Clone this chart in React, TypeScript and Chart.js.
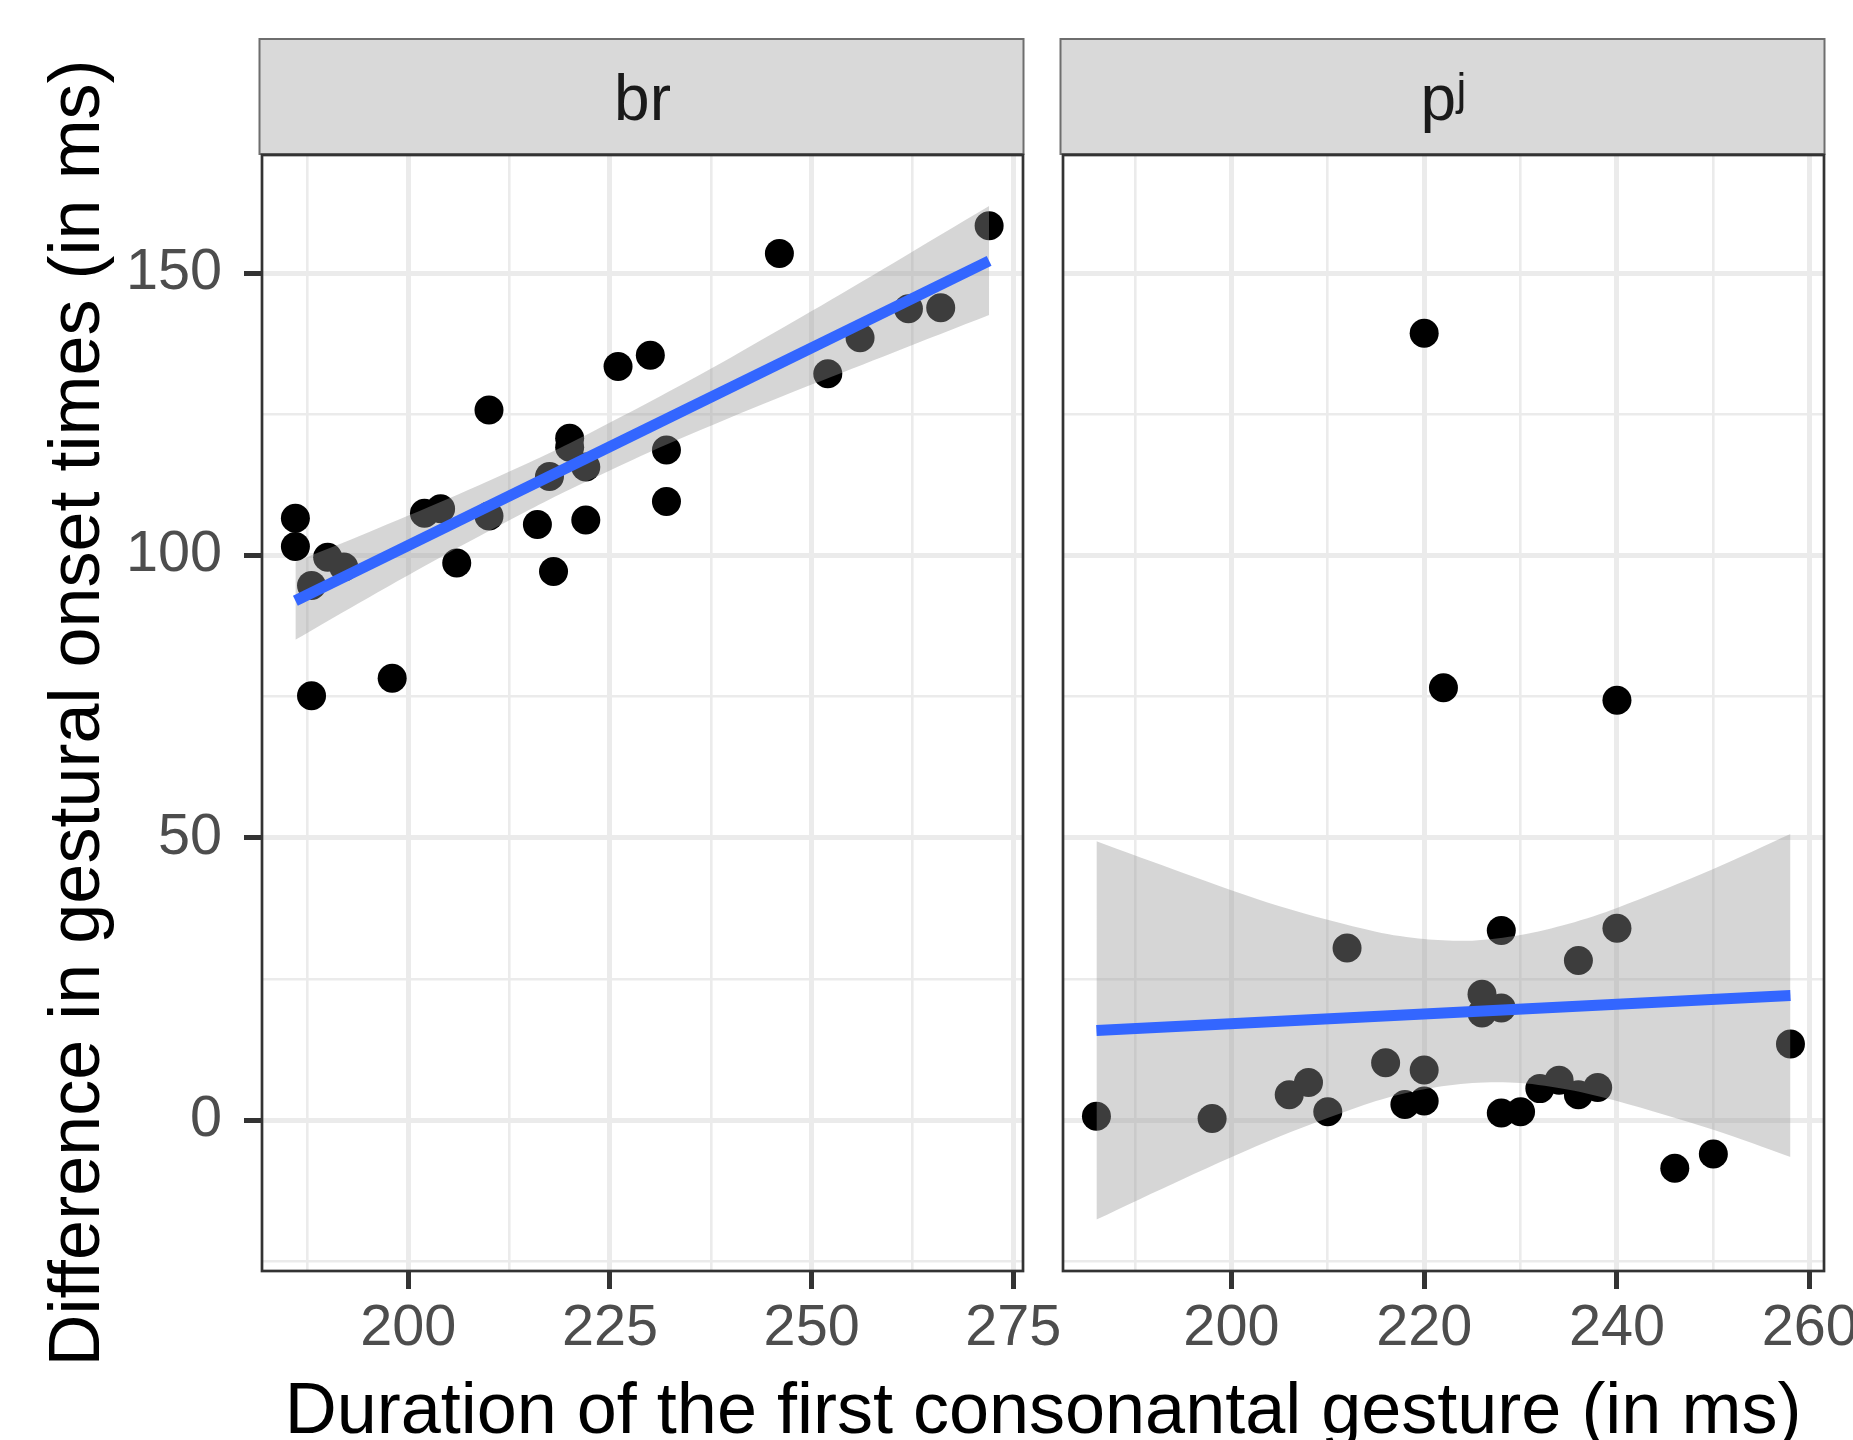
import React, { useEffect, useRef } from "react";
import { Chart, registerables } from "chart.js";

Chart.register(...registerables);

const FONT = '"Liberation Sans", Arial, Helvetica, sans-serif';

// ---- text ----
const panelLabels = ["br", "pʲ"];
const xAxisTitle = "Duration of the first consonantal gesture (in ms)";
const yAxisTitle = "Difference in gestural onset times (in ms)";

// ---- shared y axis ----
const yMajorTicks = [0, 50, 100, 150];
const yMinorTicks = [-25, 25, 75, 125];
const yRange = [-26.7, 170.95];

// ---- panel "br" ----
const brMajorTicks = [200, 225, 250, 275];
const brMinorTicks = [187.5, 212.5, 237.5, 262.5];
const brRange = [181.86, 276.2];
const brDuration = [186, 186, 188, 190, 192, 188, 198, 202, 204, 206, 210, 210, 216, 217.5, 218, 220, 220, 222, 222, 226, 230, 232, 232, 246, 252, 256, 262, 266, 272];
const brOnsetDiff = [106.6, 101.6, 94.7, 99.7, 98.0, 75.2, 78.3, 107.5, 108.3, 98.7, 125.8, 107.0, 105.5, 114.0, 97.2, 120.8, 119.2, 115.7, 106.3, 133.5, 135.5, 118.7, 109.6, 153.5, 132.2, 138.6, 143.7, 143.9, 158.4];
const brFitX = [186, 272];
const brFitY = [92.0, 152.2];
const brBandX = [186, 195, 205, 215, 220, 230, 240, 250, 260, 272];
const brBandUpper = [98.9, 104.1, 110.1, 116.5, 119.9, 127.3, 135.1, 143.3, 151.7, 161.9];
const brBandLower = [85.1, 92.5, 100.5, 108.1, 111.7, 118.4, 124.5, 130.3, 135.9, 142.6];

// ---- panel "pʲ" ----
const pjMajorTicks = [200, 220, 240, 260];
const pjMinorTicks = [190, 210, 230, 250];
const pjRange = [182.53, 261.48];
const pjDuration = [186, 198, 206, 208, 210, 212, 216, 218, 220, 220, 220, 222, 226, 226, 228, 228, 228, 230, 232, 234, 236, 236, 238, 240, 240, 246, 250, 258];
const pjOnsetDiff = [0.7, 0.3, 4.5, 6.7, 1.5, 30.5, 10.2, 2.8, 3.4, 8.9, 139.4, 76.6, 22.3, 19.0, 33.6, 19.9, 1.3, 1.5, 5.6, 7.1, 4.5, 28.3, 5.8, 34.0, 74.4, -8.5, -6.0, 13.5];
const pjFitX = [186, 258];
const pjFitY = [15.9, 22.1];
const pjBandX = [186, 195, 205, 215, 220, 225, 230, 235, 240, 250, 258];
const pjBandUpper = [49.4, 43.8, 37.9, 33.4, 32.1, 31.8, 32.8, 34.8, 37.6, 44.5, 50.7];
const pjBandLower = [-17.6, -10.4, -2.9, 3.4, 5.5, 6.6, 6.6, 5.4, 3.4, -1.7, -6.5];

const zip = (xs: number[], ys: number[]) => xs.map((x, i) => ({ x, y: ys[i] }));

function tickBuilder(major: number[], minor: number[]) {
  return (scale: any) => {
    scale.ticks = [...major, ...minor].sort((a, b) => a - b).map((v) => ({ value: v }));
  };
}

interface PanelSpec {
  label: string;
  xs: number[];
  ys: number[];
  fitX: number[];
  fitY: number[];
  bandX: number[];
  bandUp: number[];
  bandLo: number[];
  xMajor: number[];
  xMinor: number[];
  xRange: number[];
  showY: boolean;
  padding: { left: number; right: number; top: number; bottom: number };
  titles: boolean;
}

function makeConfig(p: PanelSpec): any {
  const facetPlugin = {
    id: "facet",
    beforeDraw(chart: any) {
      const { ctx, chartArea } = chart;
      const { left, right } = chartArea;
      ctx.save();
      ctx.fillStyle = "#D9D9D9";
      ctx.fillRect(left - 2.5, 39, right - left + 3, 115);
      ctx.strokeStyle = "#6E6E6E";
      ctx.lineWidth = 2;
      ctx.strokeRect(left - 2.5, 39, right - left + 3, 115);
      ctx.fillStyle = "#1A1A1A";
      ctx.font = `64px ${FONT}`;
      ctx.textAlign = "center";
      ctx.textBaseline = "alphabetic";
      ctx.fillText(p.label, (left + right) / 2, 120);
      ctx.restore();
    },
    afterDatasetsDraw(chart: any) {
      const { ctx, chartArea } = chart;
      const { left, right, top, bottom } = chartArea;
      ctx.save();
      ctx.strokeStyle = "#333333";
      ctx.lineWidth = 2.7;
      ctx.strokeRect(left, top, right - left, bottom - top);
      ctx.restore();
    },
    afterDraw(chart: any) {
      if (!p.titles) return;
      const { ctx } = chart;
      ctx.save();
      ctx.fillStyle = "#000000";
      ctx.font = `72px ${FONT}`;
      ctx.textAlign = "center";
      ctx.textBaseline = "alphabetic";
      ctx.fillText(xAxisTitle, 1043, 1433);
      ctx.translate(98.5, 713);
      ctx.rotate(-Math.PI / 2);
      ctx.fillText(yAxisTitle, 0, 0);
      ctx.restore();
    },
  };

  const isXMajor = (v: any) => p.xMajor.includes(v);
  const isYMajor = (v: any) => yMajorTicks.includes(v);

  return {
    type: "scatter",
    data: {
      datasets: [
        {
          label: "points",
          data: zip(p.xs, p.ys),
          backgroundColor: "#000000",
          borderWidth: 0,
          pointRadius: 14.5,
          pointHoverRadius: 14.5,
          showLine: false,
          order: 3,
        },
        {
          label: "upper",
          data: zip(p.bandX, p.bandUp),
          showLine: true,
          borderColor: "rgba(0,0,0,0)",
          borderWidth: 0,
          pointRadius: 0,
          fill: false,
          tension: 0.3,
          order: 2,
        },
        {
          label: "lower",
          data: zip(p.bandX, p.bandLo),
          showLine: true,
          borderColor: "rgba(0,0,0,0)",
          borderWidth: 0,
          pointRadius: 0,
          fill: "-1",
          backgroundColor: "rgba(153,153,153,0.4)",
          tension: 0.3,
          order: 2,
        },
        {
          label: "fit",
          data: zip(p.fitX, p.fitY),
          showLine: true,
          borderColor: "#3366FF",
          borderWidth: 11,
          borderCapStyle: "butt",
          pointRadius: 0,
          fill: false,
          order: 1,
        },
      ],
    },
    options: {
      responsive: false,
      maintainAspectRatio: false,
      animation: false,
      devicePixelRatio: 1,
      events: [],
      layout: { padding: p.padding, autoPadding: false },
      plugins: {
        legend: { display: false },
        tooltip: { enabled: false },
        title: { display: false },
        filler: { drawTime: "beforeDatasetDraw" },
      },
      scales: {
        x: {
          type: "linear",
          position: "bottom",
          min: p.xRange[0],
          max: p.xRange[1],
          bounds: "data",
          afterBuildTicks: tickBuilder(p.xMajor, p.xMinor),
          afterFit: (s: any) => {
            s.height = 169;
            s.paddingLeft = 0;
            s.paddingRight = 0;
            s.paddingTop = 0;
            s.paddingBottom = 0;
          },
          border: { display: false },
          grid: {
            color: "#EBEBEB",
            lineWidth: (c: any) => (isXMajor(c.tick && c.tick.value) ? 5 : 2.6),
            tickColor: (c: any) => (isXMajor(c.tick && c.tick.value) ? "#333333" : "rgba(0,0,0,0)"),
            tickLength: 18,
            tickWidth: 5,
            drawTicks: true,
          },
          ticks: {
            autoSkip: false,
            maxRotation: 0,
            minRotation: 0,
            color: "#4D4D4D",
            padding: 6,
            font: { family: FONT, size: 57.6, lineHeight: 1.2 },
            callback: (v: any) => (isXMajor(v) ? String(v) : ""),
          },
        },
        y: {
          type: "linear",
          position: "left",
          min: yRange[0],
          max: yRange[1],
          bounds: "data",
          afterBuildTicks: tickBuilder(yMajorTicks, yMinorTicks),
          afterFit: (s: any) => {
            s.width = p.showY ? 262 : 0;
            s.paddingLeft = 0;
            s.paddingRight = 0;
            s.paddingTop = 0;
            s.paddingBottom = 0;
          },
          border: { display: false },
          grid: {
            color: "#EBEBEB",
            lineWidth: (c: any) => (isYMajor(c.tick && c.tick.value) ? 5 : 2.6),
            tickColor: (c: any) => (isYMajor(c.tick && c.tick.value) ? "#333333" : "rgba(0,0,0,0)"),
            tickLength: 18,
            tickWidth: 5,
            drawTicks: p.showY,
          },
          ticks: {
            display: p.showY,
            autoSkip: false,
            color: "#4D4D4D",
            padding: 22,
            font: { family: FONT, size: 57.6, lineHeight: 1.2 },
            callback: (v: any) => (isYMajor(v) ? String(v) : ""),
          },
        },
      },
    },
    plugins: [facetPlugin],
  };
}

export default function App() {
  const leftRef = useRef<HTMLCanvasElement | null>(null);
  const rightRef = useRef<HTMLCanvasElement | null>(null);

  useEffect(() => {
    document.body.style.margin = "0";
    const left = new Chart(
      leftRef.current as HTMLCanvasElement,
      makeConfig({
        label: panelLabels[0],
        xs: brDuration,
        ys: brOnsetDiff,
        fitX: brFitX,
        fitY: brFitY,
        bandX: brBandX,
        bandUp: brBandUpper,
        bandLo: brBandLower,
        xMajor: brMajorTicks,
        xMinor: brMinorTicks,
        xRange: brRange,
        showY: true,
        padding: { left: 0, right: 830, top: 155, bottom: 0 },
        titles: true,
      })
    );
    const right = new Chart(
      rightRef.current as HTMLCanvasElement,
      makeConfig({
        label: panelLabels[1],
        xs: pjDuration,
        ys: pjOnsetDiff,
        fitX: pjFitX,
        fitY: pjFitY,
        bandX: pjBandX,
        bandUp: pjBandUpper,
        bandLo: pjBandLower,
        xMajor: pjMajorTicks,
        xMinor: pjMinorTicks,
        xRange: pjRange,
        showY: false,
        padding: { left: 20, right: 29, top: 155, bottom: 0 },
        titles: false,
      })
    );
    return () => {
      left.destroy();
      right.destroy();
    };
  }, []);

  return (
    <div style={{ position: "relative", width: 1853, height: 1440, background: "#ffffff", overflow: "hidden" }}>
      <canvas
        ref={leftRef}
        width={1853}
        height={1440}
        style={{ position: "absolute", left: 0, top: 0, width: 1853, height: 1440 }}
      />
      <canvas
        ref={rightRef}
        width={810}
        height={1440}
        style={{ position: "absolute", left: 1043, top: 0, width: 810, height: 1440 }}
      />
    </div>
  );
}
